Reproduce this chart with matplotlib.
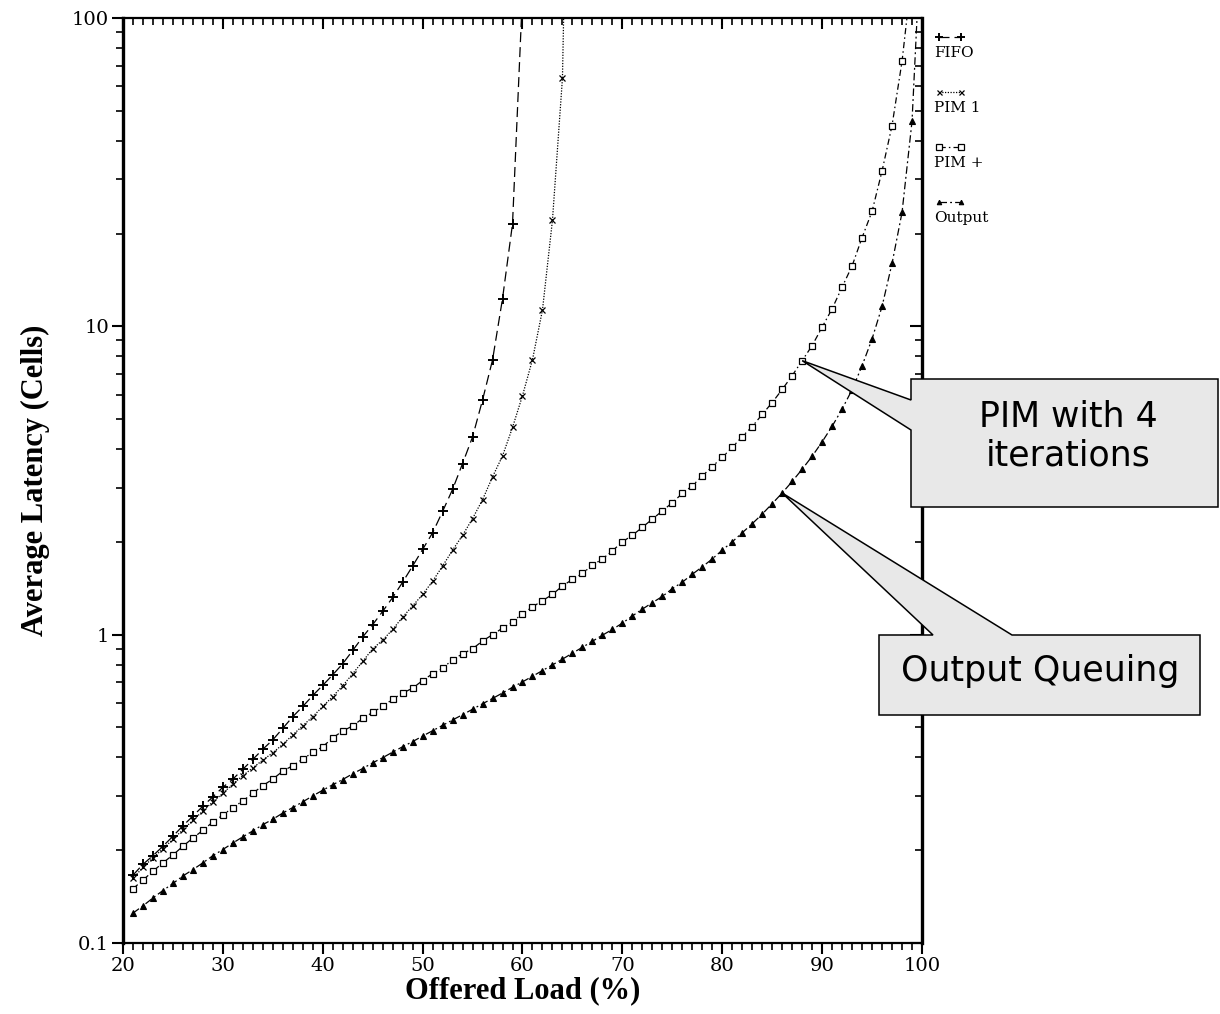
import numpy as np
import matplotlib
matplotlib.use("Agg")
import matplotlib.pyplot as plt
from matplotlib.lines import Line2D
from matplotlib.patches import Polygon
from matplotlib.ticker import FixedLocator, NullFormatter, LogLocator

# ---- data: average latency (cells) vs offered load (%) ----
fifo_load = np.arange(21, 61)
fifo_latency = [0.166, 0.180, 0.192, 0.206, 0.222, 0.240, 0.258, 0.278, 0.298, 0.320,
                0.340, 0.366, 0.394, 0.425, 0.456, 0.497, 0.542, 0.585, 0.635, 0.685,
                0.741, 0.805, 0.889, 0.983, 1.078, 1.19, 1.32, 1.48, 1.67, 1.89,
                2.14, 2.51, 2.96, 3.59, 4.38, 5.77, 7.78, 12.3, 21.5, 120.0]

pim1_load = np.arange(21, 66)
pim1_latency = [0.162, 0.176, 0.189, 0.202, 0.217, 0.233, 0.250, 0.268, 0.287, 0.306,
                0.328, 0.349, 0.370, 0.392, 0.414, 0.441, 0.473, 0.507, 0.542, 0.585,
                0.630, 0.683, 0.747, 0.819, 0.900, 0.960, 1.04, 1.14, 1.24, 1.35,
                1.49, 1.67, 1.88, 2.10, 2.38, 2.74, 3.25, 3.80, 4.70, 5.96,
                7.80, 11.3, 22.1, 63.8, 3000.0]

pim4_load = np.arange(21, 100)
pim4_latency = [0.150, 0.160, 0.171, 0.182, 0.193, 0.206, 0.219, 0.232, 0.247, 0.260,
                0.275, 0.289, 0.306, 0.324, 0.340, 0.361, 0.376, 0.395, 0.415, 0.433,
                0.463, 0.487, 0.506, 0.535, 0.560, 0.585, 0.618, 0.646, 0.671, 0.710,
                0.747, 0.779, 0.829, 0.867, 0.900, 0.954, 1.00, 1.05, 1.10, 1.17,
                1.23, 1.29, 1.35, 1.44, 1.51, 1.58, 1.68, 1.76, 1.87, 2.00,
                2.10, 2.23, 2.37, 2.52, 2.68, 2.87, 3.04, 3.27, 3.51, 3.76,
                4.05, 4.39, 4.73, 5.18, 5.66, 6.24, 6.92, 7.74, 8.66, 9.94,
                11.4, 13.4, 15.7, 19.4, 23.6, 31.9, 44.8, 72.3, 140.0]

output_load = np.arange(21, 101)
output_latency = [0.125, 0.132, 0.140, 0.148, 0.156, 0.165, 0.173, 0.182, 0.192, 0.201,
                  0.211, 0.221, 0.231, 0.242, 0.252, 0.264, 0.275, 0.287, 0.300, 0.313,
                  0.326, 0.339, 0.354, 0.368, 0.384, 0.399, 0.416, 0.433, 0.450, 0.469,
                  0.488, 0.508, 0.529, 0.550, 0.573, 0.597, 0.621, 0.647, 0.675, 0.703,
                  0.733, 0.765, 0.798, 0.833, 0.871, 0.910, 0.952, 0.996, 1.04, 1.09,
                  1.15, 1.21, 1.27, 1.33, 1.41, 1.48, 1.57, 1.66, 1.76, 1.88,
                  2.00, 2.14, 2.29, 2.46, 2.66, 2.88, 3.14, 3.44, 3.79, 4.22,
                  4.74, 5.39, 6.23, 7.45, 9.10, 11.6, 16.0, 23.4, 46.2, 215.0]

series_names = ["FIFO", "PIM 1", "PIM +", "Output"]
x_ticks = [20, 30, 40, 50, 60, 70, 80, 90, 100]
y_ticks = [0.1, 1, 10, 100]
y_tick_labels = ["0.1", "1", "10", "100"]

W, H = 1220, 1014
fig = plt.figure(figsize=(W / 100, H / 100), dpi=100)
fig.patch.set_facecolor("white")


def fx(px):
    return px / W


def fy(py):
    return 1 - py / H


ax = fig.add_axes([fx(123), fy(943), (922 - 123) / W, (943 - 18) / H])
ax.set_xlim(20, 100)
ax.set_yscale("log")
ax.set_ylim(0.1, 100)

styles = [
    dict(ls=(0, (8, 4)), marker="+", ms=7, mew=1.4),
    dict(ls=(0, (1, 1.2)), marker="x", ms=4.5, mew=0.9),
    dict(ls=(0, (5, 2.5, 1.2, 2.5)), marker="s", ms=5, mew=0.9, mfc="white"),
    dict(ls=(0, (6, 2.5, 1.5, 2.5)), marker="^", ms=4, mew=0.8, mfc="black"),
]
loads = [fifo_load, pim1_load, pim4_load, output_load]
lats = [fifo_latency, pim1_latency, pim4_latency, output_latency]
for xs, ys, st in zip(loads, lats, styles):
    ax.plot(xs, ys, color="black", lw=0.9, mec="black", clip_on=True, **st)

# ticks: outward on bottom/left, inward on top/right
ax.xaxis.set_major_locator(FixedLocator(x_ticks))
ax.xaxis.set_minor_locator(FixedLocator(np.arange(20, 101, 1)))
ax.yaxis.set_major_locator(FixedLocator(y_ticks))
ax.yaxis.set_minor_locator(LogLocator(base=10, subs=np.arange(2, 10)))
ax.yaxis.set_minor_formatter(NullFormatter())
ax.set_yticklabels(y_tick_labels)
ax.set_xticklabels([str(t) for t in x_ticks])
ax.tick_params(axis="both", which="major", direction="out", length=8, width=1.5,
               labelsize=14, pad=2)
ax.tick_params(axis="both", which="minor", direction="out", length=5, width=1.2)
for lab in ax.get_xticklabels() + ax.get_yticklabels():
    lab.set_fontfamily("DejaVu Serif")

top = ax.secondary_xaxis("top")
top.xaxis.set_major_locator(FixedLocator(x_ticks))
top.xaxis.set_minor_locator(FixedLocator(np.arange(20, 101, 1)))
top.tick_params(which="major", direction="in", length=8, width=1.5, labeltop=False)
top.tick_params(which="minor", direction="in", length=5, width=1.2)
right = ax.secondary_yaxis("right")
right.yaxis.set_major_locator(FixedLocator(y_ticks))
right.yaxis.set_minor_locator(LogLocator(base=10, subs=np.arange(2, 10)))
right.yaxis.set_minor_formatter(NullFormatter())
right.tick_params(which="major", direction="in", length=9, width=1.5, labelright=False)
right.tick_params(which="minor", direction="in", length=5, width=1.2)
for sec in (top, right):
    for sp in sec.spines.values():
        sp.set_visible(False)

ax.spines["left"].set_linewidth(2.4)
ax.spines["right"].set_linewidth(2.4)
ax.spines["top"].set_linewidth(1.6)
ax.spines["bottom"].set_linewidth(1.6)

ax.set_xlabel("Offered Load (%)", fontfamily="Liberation Serif", fontweight="bold",
              fontsize=22, labelpad=1)
ax.set_ylabel("Average Latency (Cells)", fontfamily="Liberation Serif",
              fontweight="bold", fontsize=22, labelpad=16)

# legend stacked at the right of the plot
leg_y = [37, 92, 147, 202]
for name, st, yy in zip(series_names, styles, leg_y):
    kw = dict(st)
    ms = kw.pop("ms") * 0.8
    fig.add_artist(Line2D([fx(939), fx(961)], [fy(yy), fy(yy)], color="black",
                          lw=0.9, mec="black", ms=ms, transform=fig.transFigure, **kw))
    fig.text(fx(934), fy(yy + 16), name, fontfamily="DejaVu Serif", fontsize=11,
             ha="left", va="center")


# callouts pointing at curve points
def callout(tip_data, poly_px, text, center_px):
    tip = ax.transData.transform(tip_data)
    tip_fig = fig.transFigure.inverted().transform(tip)
    pts = []
    for p in poly_px:
        if p is None:
            pts.append(tip_fig)
        else:
            pts.append((fx(p[0]), fy(p[1])))
    fig.add_artist(Polygon(pts, closed=True, facecolor="#e8e8e8", edgecolor="black",
                           lw=1.1, transform=fig.transFigure, zorder=10))
    fig.text(fx(center_px[0]), fy(center_px[1]), text, fontfamily="DejaVu Sans",
             fontsize=25, ha="center", va="center", linespacing=1.15, zorder=11)


i88 = list(pim4_load).index(88)
callout((88, pim4_latency[i88]),
        [(911, 379), (1218, 379), (1218, 507), (911, 507), (911, 430), None, (911, 400)],
        "PIM with 4\niterations", (1068, 436))
i86 = list(output_load).index(86)
callout((86, output_latency[i86]),
        [(879, 635), (933, 635), None, (1012, 635), (1200, 635), (1200, 715), (879, 715)],
        "Output Queuing", (1040, 671))

fig.savefig("out.png", dpi=100, facecolor="white")
